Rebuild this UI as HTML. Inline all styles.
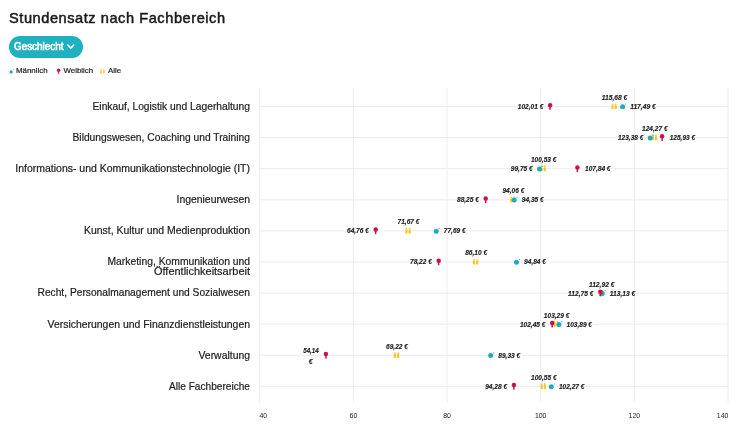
<!DOCTYPE html>
<html lang="de"><head><meta charset="utf-8"><title>Stundensatz nach Fachbereich</title>
<style>
html,body{margin:0;padding:0;background:#fff;}
body{width:746px;height:439px;position:relative;overflow:hidden;font-family:"Liberation Sans",sans-serif;color:#1d1d1d;}
h1{position:absolute;left:9px;top:7.5px;margin:0;font-size:14.6px;font-weight:normal;-webkit-text-stroke:0.5px #1a1a1a;letter-spacing:0.55px;line-height:20px;color:#1a1a1a;white-space:nowrap;}
.btn{position:absolute;left:9px;top:36px;width:74px;height:22px;border-radius:11px;background:#20b1c1;color:#fff;font-size:10.8px;font-weight:normal;-webkit-text-stroke:0.6px #fff;line-height:21.5px;box-sizing:border-box;padding-left:4.5px;white-space:nowrap;}
.btn span{display:inline-block;transform:scaleX(0.915);transform-origin:0 50%;}
.btn svg{position:absolute;left:58.4px;top:7.9px;}
.legend{position:absolute;left:9px;top:65px;-webkit-text-stroke:0.2px #222;font-size:7.9px;line-height:12px;color:#222;white-space:nowrap;}
.legend span{position:absolute;top:0.4px;}
.cat{font-size:10.4px;fill:#1d1d1d;stroke:#1d1d1d;stroke-width:0.2px;font-family:"Liberation Sans",sans-serif;}
.tick{font-size:6.9px;fill:#1a1a1a;font-family:"Liberation Sans",sans-serif;}
.val{font-size:7.1px;fill:#1c1c1c;stroke:#1c1c1c;stroke-width:0.15px;font-style:italic;font-weight:bold;font-family:"Liberation Sans",sans-serif;}
</style></head><body>
<svg width="746" height="439" viewBox="0 0 746 439" style="position:absolute;left:0;top:0">
<line x1="259.7" y1="88" x2="259.7" y2="402.5" stroke="#ececec" stroke-width="1"/>
<text x="259.4" y="417.8" class="tick" text-anchor="start">40</text>
<line x1="353.4" y1="88" x2="353.4" y2="402.5" stroke="#ececec" stroke-width="1"/>
<text x="353.4" y="417.8" class="tick" text-anchor="middle">60</text>
<line x1="447.0" y1="88" x2="447.0" y2="402.5" stroke="#ececec" stroke-width="1"/>
<text x="447.0" y="417.8" class="tick" text-anchor="middle">80</text>
<line x1="540.7" y1="88" x2="540.7" y2="402.5" stroke="#ececec" stroke-width="1"/>
<text x="540.7" y="417.8" class="tick" text-anchor="middle">100</text>
<line x1="634.3" y1="88" x2="634.3" y2="402.5" stroke="#ececec" stroke-width="1"/>
<text x="634.3" y="417.8" class="tick" text-anchor="middle">120</text>
<line x1="728.0" y1="88" x2="728.0" y2="402.5" stroke="#ececec" stroke-width="1"/>
<text x="728.3" y="417.8" class="tick" text-anchor="end">140</text>
<line x1="259.7" y1="106.5" x2="728" y2="106.5" stroke="#ececec" stroke-width="1"/>
<line x1="259.7" y1="137.6" x2="728" y2="137.6" stroke="#ececec" stroke-width="1"/>
<line x1="259.7" y1="168.7" x2="728" y2="168.7" stroke="#ececec" stroke-width="1"/>
<line x1="259.7" y1="199.8" x2="728" y2="199.8" stroke="#ececec" stroke-width="1"/>
<line x1="259.7" y1="230.9" x2="728" y2="230.9" stroke="#ececec" stroke-width="1"/>
<line x1="259.7" y1="262.0" x2="728" y2="262.0" stroke="#ececec" stroke-width="1"/>
<line x1="259.7" y1="293.1" x2="728" y2="293.1" stroke="#ececec" stroke-width="1"/>
<line x1="259.7" y1="324.2" x2="728" y2="324.2" stroke="#ececec" stroke-width="1"/>
<line x1="259.7" y1="355.3" x2="728" y2="355.3" stroke="#ececec" stroke-width="1"/>
<line x1="259.7" y1="386.4" x2="728" y2="386.4" stroke="#ececec" stroke-width="1"/>
<text x="250" y="109.8" class="cat" text-anchor="end" textLength="157.5" lengthAdjust="spacingAndGlyphs">Einkauf, Logistik und Lagerhaltung</text>
<text x="250" y="140.9" class="cat" text-anchor="end" textLength="177.5" lengthAdjust="spacingAndGlyphs">Bildungswesen, Coaching und Training</text>
<text x="250" y="172.0" class="cat" text-anchor="end" textLength="234.7" lengthAdjust="spacingAndGlyphs">Informations- und Kommunikationstechnologie (IT)</text>
<text x="250" y="203.1" class="cat" text-anchor="end" textLength="73.5" lengthAdjust="spacingAndGlyphs">Ingenieurwesen</text>
<text x="250" y="234.2" class="cat" text-anchor="end" textLength="166.0" lengthAdjust="spacingAndGlyphs">Kunst, Kultur und Medienproduktion</text>
<text x="250" y="265.0" class="cat" text-anchor="end" textLength="142.5" lengthAdjust="spacingAndGlyphs">Marketing, Kommunikation und</text>
<text x="250" y="275.3" class="cat" text-anchor="end" textLength="96.0" lengthAdjust="spacingAndGlyphs">Öffentlichkeitsarbeit</text>
<text x="250" y="296.4" class="cat" text-anchor="end" textLength="212.5" lengthAdjust="spacingAndGlyphs">Recht, Personalmanagement und Sozialwesen</text>
<text x="250" y="327.5" class="cat" text-anchor="end" textLength="202.5" lengthAdjust="spacingAndGlyphs">Versicherungen und Finanzdienstleistungen</text>
<text x="250" y="358.6" class="cat" text-anchor="end" textLength="51.5" lengthAdjust="spacingAndGlyphs">Verwaltung</text>
<text x="250" y="389.7" class="cat" text-anchor="end" textLength="81.0" lengthAdjust="spacingAndGlyphs">Alle Fachbereiche</text>
<circle cx="612.56" cy="104.3" r="0.9" fill="#f8c526"/><rect x="611.41" y="105.2" width="2.2" height="3.9" rx="0.6" fill="#f8c526"/><circle cx="615.66" cy="104.3" r="0.9" fill="#f8c526"/><rect x="614.61" y="105.2" width="2.2" height="3.9" rx="0.6" fill="#f8c526"/>
<circle cx="622.6" cy="106.8" r="2.5" fill="#1fabba"/><circle cx="625.5" cy="104.1" r="0.7" fill="#1fabba" opacity="0.8"/>
<circle cx="550.1" cy="105.2" r="2.25" fill="#cc0f4f"/><rect x="549.3" y="106.5" width="1.5" height="3.3" fill="#cc0f4f"/>
<text x="543.3" y="108.9" class="val" text-anchor="end" textLength="25.5" lengthAdjust="spacingAndGlyphs">102,01 €</text>
<text x="614.6" y="99.9" class="val" text-anchor="middle" textLength="25.5" lengthAdjust="spacingAndGlyphs">115,68 €</text>
<text x="630.2" y="108.9" class="val" text-anchor="start" textLength="25.5" lengthAdjust="spacingAndGlyphs">117,49 €</text>
<circle cx="652.79" cy="135.4" r="0.9" fill="#f8c526"/><rect x="651.64" y="136.3" width="2.2" height="3.9" rx="0.6" fill="#f8c526"/><circle cx="655.89" cy="135.4" r="0.9" fill="#f8c526"/><rect x="654.84" y="136.3" width="2.2" height="3.9" rx="0.6" fill="#f8c526"/>
<circle cx="650.2" cy="137.9" r="2.5" fill="#1fabba"/><circle cx="653.1" cy="135.2" r="0.7" fill="#1fabba" opacity="0.8"/>
<circle cx="662.1" cy="136.3" r="2.25" fill="#cc0f4f"/><rect x="661.4" y="137.6" width="1.5" height="3.3" fill="#cc0f4f"/>
<text x="643.4" y="140.0" class="val" text-anchor="end" textLength="25.5" lengthAdjust="spacingAndGlyphs">123,38 €</text>
<text x="654.8" y="131.0" class="val" text-anchor="middle" textLength="25.5" lengthAdjust="spacingAndGlyphs">124,27 €</text>
<text x="669.7" y="140.0" class="val" text-anchor="start" textLength="25.5" lengthAdjust="spacingAndGlyphs">125,93 €</text>
<circle cx="541.61" cy="166.5" r="0.9" fill="#f8c526"/><rect x="540.46" y="167.4" width="2.2" height="3.9" rx="0.6" fill="#f8c526"/><circle cx="544.71" cy="166.5" r="0.9" fill="#f8c526"/><rect x="543.66" y="167.4" width="2.2" height="3.9" rx="0.6" fill="#f8c526"/>
<circle cx="539.5" cy="169.0" r="2.5" fill="#1fabba"/><circle cx="542.4" cy="166.3" r="0.7" fill="#1fabba" opacity="0.8"/>
<circle cx="577.4" cy="167.4" r="2.25" fill="#cc0f4f"/><rect x="576.6" y="168.7" width="1.5" height="3.3" fill="#cc0f4f"/>
<text x="532.7" y="171.1" class="val" text-anchor="end" textLength="21.9" lengthAdjust="spacingAndGlyphs">99,75 €</text>
<text x="543.7" y="162.1" class="val" text-anchor="middle" textLength="25.5" lengthAdjust="spacingAndGlyphs">100,53 €</text>
<text x="585.0" y="171.1" class="val" text-anchor="start" textLength="25.5" lengthAdjust="spacingAndGlyphs">107,84 €</text>
<circle cx="511.31" cy="197.6" r="0.9" fill="#f8c526"/><rect x="510.16" y="198.5" width="2.2" height="3.9" rx="0.6" fill="#f8c526"/><circle cx="514.41" cy="197.6" r="0.9" fill="#f8c526"/><rect x="513.36" y="198.5" width="2.2" height="3.9" rx="0.6" fill="#f8c526"/>
<circle cx="514.2" cy="200.1" r="2.5" fill="#1fabba"/><circle cx="517.1" cy="197.4" r="0.7" fill="#1fabba" opacity="0.8"/>
<circle cx="485.7" cy="198.5" r="2.25" fill="#cc0f4f"/><rect x="484.9" y="199.8" width="1.5" height="3.3" fill="#cc0f4f"/>
<text x="478.9" y="202.2" class="val" text-anchor="end" textLength="21.9" lengthAdjust="spacingAndGlyphs">88,25 €</text>
<text x="513.4" y="193.2" class="val" text-anchor="middle" textLength="21.9" lengthAdjust="spacingAndGlyphs">94,06 €</text>
<text x="521.8" y="202.2" class="val" text-anchor="start" textLength="21.9" lengthAdjust="spacingAndGlyphs">94,35 €</text>
<circle cx="406.46" cy="228.7" r="0.9" fill="#f8c526"/><rect x="405.31" y="229.6" width="2.2" height="3.9" rx="0.6" fill="#f8c526"/><circle cx="409.56" cy="228.7" r="0.9" fill="#f8c526"/><rect x="408.51" y="229.6" width="2.2" height="3.9" rx="0.6" fill="#f8c526"/>
<circle cx="436.2" cy="231.2" r="2.5" fill="#1fabba"/><circle cx="439.1" cy="228.5" r="0.7" fill="#1fabba" opacity="0.8"/>
<circle cx="375.7" cy="229.6" r="2.25" fill="#cc0f4f"/><rect x="374.9" y="230.9" width="1.5" height="3.3" fill="#cc0f4f"/>
<text x="368.9" y="233.3" class="val" text-anchor="end" textLength="21.9" lengthAdjust="spacingAndGlyphs">64,76 €</text>
<text x="408.5" y="224.3" class="val" text-anchor="middle" textLength="21.9" lengthAdjust="spacingAndGlyphs">71,67 €</text>
<text x="443.8" y="233.3" class="val" text-anchor="start" textLength="21.9" lengthAdjust="spacingAndGlyphs">77,69 €</text>
<circle cx="474.04" cy="259.8" r="0.9" fill="#f8c526"/><rect x="472.89" y="260.7" width="2.2" height="3.9" rx="0.6" fill="#f8c526"/><circle cx="477.14" cy="259.8" r="0.9" fill="#f8c526"/><rect x="476.09" y="260.7" width="2.2" height="3.9" rx="0.6" fill="#f8c526"/>
<circle cx="516.5" cy="262.3" r="2.5" fill="#1fabba"/><circle cx="519.4" cy="259.6" r="0.7" fill="#1fabba" opacity="0.8"/>
<circle cx="438.7" cy="260.7" r="2.25" fill="#cc0f4f"/><rect x="437.9" y="262.0" width="1.5" height="3.3" fill="#cc0f4f"/>
<text x="431.9" y="264.4" class="val" text-anchor="end" textLength="21.9" lengthAdjust="spacingAndGlyphs">78,22 €</text>
<text x="476.1" y="255.4" class="val" text-anchor="middle" textLength="21.9" lengthAdjust="spacingAndGlyphs">86,10 €</text>
<text x="524.1" y="264.4" class="val" text-anchor="start" textLength="21.9" lengthAdjust="spacingAndGlyphs">94,84 €</text>
<circle cx="599.63" cy="290.9" r="0.9" fill="#f8c526"/><rect x="598.48" y="291.8" width="2.2" height="3.9" rx="0.6" fill="#f8c526"/><circle cx="602.73" cy="290.9" r="0.9" fill="#f8c526"/><rect x="601.68" y="291.8" width="2.2" height="3.9" rx="0.6" fill="#f8c526"/>
<circle cx="602.2" cy="293.4" r="2.5" fill="#1fabba"/><circle cx="605.1" cy="290.7" r="0.7" fill="#1fabba" opacity="0.8"/>
<circle cx="600.4" cy="291.8" r="2.25" fill="#cc0f4f"/><rect x="599.6" y="293.1" width="1.5" height="3.3" fill="#cc0f4f"/>
<text x="593.6" y="295.5" class="val" text-anchor="end" textLength="25.5" lengthAdjust="spacingAndGlyphs">112,75 €</text>
<text x="601.7" y="286.5" class="val" text-anchor="middle" textLength="25.5" lengthAdjust="spacingAndGlyphs">112,92 €</text>
<text x="609.8" y="295.5" class="val" text-anchor="start" textLength="25.5" lengthAdjust="spacingAndGlyphs">113,13 €</text>
<circle cx="554.54" cy="322.0" r="0.9" fill="#f8c526"/><rect x="553.39" y="322.9" width="2.2" height="3.9" rx="0.6" fill="#f8c526"/><circle cx="557.64" cy="322.0" r="0.9" fill="#f8c526"/><rect x="556.59" y="322.9" width="2.2" height="3.9" rx="0.6" fill="#f8c526"/>
<circle cx="558.9" cy="324.5" r="2.5" fill="#1fabba"/><circle cx="561.8" cy="321.8" r="0.7" fill="#1fabba" opacity="0.8"/>
<circle cx="552.2" cy="322.9" r="2.25" fill="#cc0f4f"/><rect x="551.4" y="324.2" width="1.5" height="3.3" fill="#cc0f4f"/>
<text x="545.4" y="326.6" class="val" text-anchor="end" textLength="25.5" lengthAdjust="spacingAndGlyphs">102,45 €</text>
<text x="556.6" y="317.6" class="val" text-anchor="middle" textLength="25.5" lengthAdjust="spacingAndGlyphs">103,29 €</text>
<text x="566.5" y="326.6" class="val" text-anchor="start" textLength="25.5" lengthAdjust="spacingAndGlyphs">103,89 €</text>
<circle cx="394.99" cy="353.1" r="0.9" fill="#f8c526"/><rect x="393.84" y="354.0" width="2.2" height="3.9" rx="0.6" fill="#f8c526"/><circle cx="398.09" cy="353.1" r="0.9" fill="#f8c526"/><rect x="397.04" y="354.0" width="2.2" height="3.9" rx="0.6" fill="#f8c526"/>
<circle cx="490.7" cy="355.6" r="2.5" fill="#1fabba"/><circle cx="493.6" cy="352.9" r="0.7" fill="#1fabba" opacity="0.8"/>
<circle cx="325.9" cy="354.0" r="2.25" fill="#cc0f4f"/><rect x="325.2" y="355.3" width="1.5" height="3.3" fill="#cc0f4f"/>
<text x="311.0" y="352.7" class="val" text-anchor="middle" textLength="15.6" lengthAdjust="spacingAndGlyphs">54,14</text>
<text x="310.7" y="364.3" class="val" text-anchor="middle">€</text>
<text x="397.0" y="348.7" class="val" text-anchor="middle" textLength="21.9" lengthAdjust="spacingAndGlyphs">69,22 €</text>
<text x="498.3" y="357.7" class="val" text-anchor="start" textLength="21.9" lengthAdjust="spacingAndGlyphs">89,33 €</text>
<circle cx="541.71" cy="384.2" r="0.9" fill="#f8c526"/><rect x="540.56" y="385.1" width="2.2" height="3.9" rx="0.6" fill="#f8c526"/><circle cx="544.81" cy="384.2" r="0.9" fill="#f8c526"/><rect x="543.76" y="385.1" width="2.2" height="3.9" rx="0.6" fill="#f8c526"/>
<circle cx="551.3" cy="386.7" r="2.5" fill="#1fabba"/><circle cx="554.2" cy="384.0" r="0.7" fill="#1fabba" opacity="0.8"/>
<circle cx="513.9" cy="385.1" r="2.25" fill="#cc0f4f"/><rect x="513.1" y="386.4" width="1.5" height="3.3" fill="#cc0f4f"/>
<text x="507.1" y="388.8" class="val" text-anchor="end" textLength="21.9" lengthAdjust="spacingAndGlyphs">94,28 €</text>
<text x="543.8" y="379.8" class="val" text-anchor="middle" textLength="25.5" lengthAdjust="spacingAndGlyphs">100,55 €</text>
<text x="558.9" y="388.8" class="val" text-anchor="start" textLength="25.5" lengthAdjust="spacingAndGlyphs">102,27 €</text>
</svg>
<h1>Stundensatz nach Fachbereich</h1>
<div class="btn"><span>Geschlecht</span><svg width="8" height="6" viewBox="0 0 8 6"><path d="M1 1.2 L3.8 4.2 L6.6 1.2" fill="none" stroke="#fff" stroke-width="1.7" stroke-linecap="round" stroke-linejoin="round"/></svg></div>
<div class="legend">
<svg width="130" height="12" viewBox="0 0 130 12" style="position:absolute;left:0;top:0">
<circle cx="2.1" cy="6.9" r="1.65" fill="#1fabba"/><circle cx="4.3" cy="4.3" r="0.55" fill="#1fabba"/>
<circle cx="49.6" cy="5.2" r="1.75" fill="#cc0f4f"/><rect x="49.1" y="6" width="1" height="3" fill="#cc0f4f"/>
<circle cx="92.1" cy="4.6" r="0.7" fill="#f8c526"/><rect x="91.3" y="5.2" width="1.6" height="3.4" rx="0.5" fill="#f8c526"/><circle cx="94.9" cy="4.6" r="0.7" fill="#f8c526"/><rect x="94.1" y="5.2" width="1.6" height="3.4" rx="0.5" fill="#f8c526"/>
</svg>
<span style="left:7px">Männlich</span><span style="left:54.5px">Weiblich</span><span style="left:99px">Alle</span>
</div>
</body></html>
